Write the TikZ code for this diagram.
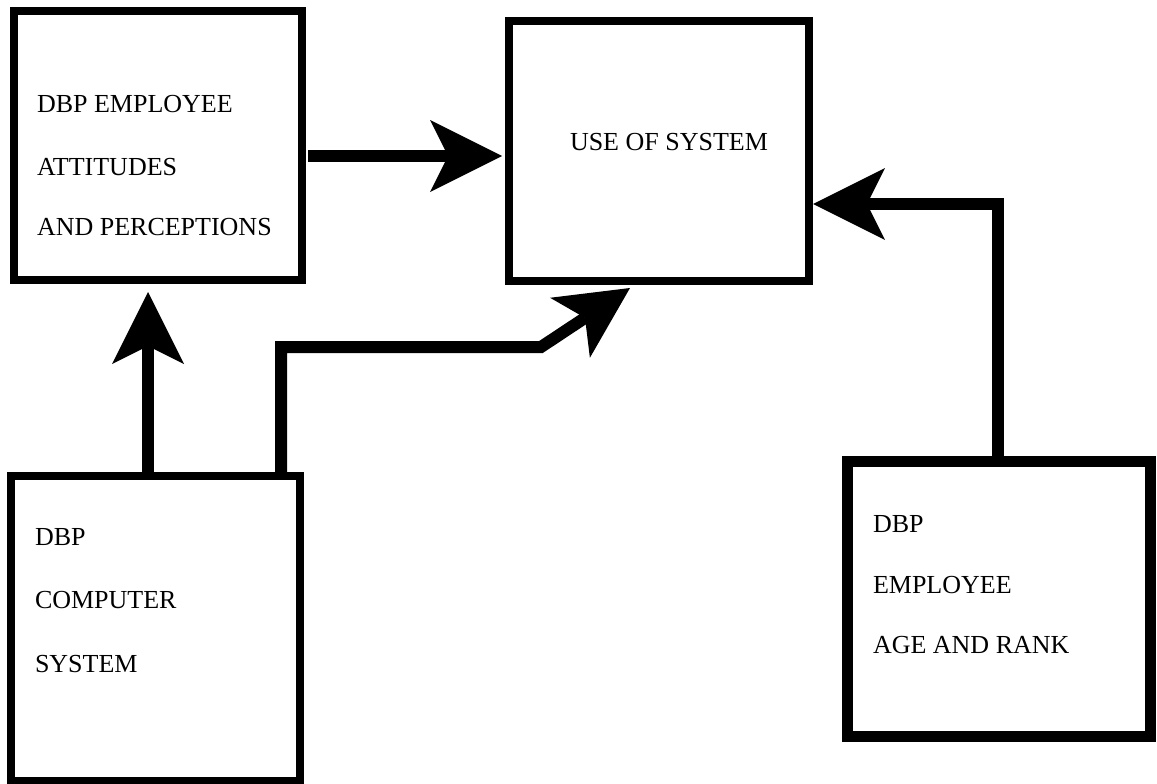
\documentclass[tikz,border=0pt]{standalone}
\usepackage{fontspec}
\setmainfont{Liberation Serif}
\usetikzlibrary{arrows.meta}
\begin{document}
\begin{tikzpicture}[x=1pt,y=-1pt,
  box/.style={draw=black,line width=8pt,rectangle,inner sep=0pt,outer sep=0pt},
  lbl/.style={anchor=base west,inner sep=0pt,outer sep=0pt,font=\fontsize{26}{30}\selectfont},
  arr/.style={line width=12pt,line join=miter,-{Stealth[length=72pt,width=72pt,inset=18pt,line width=0pt]}}]
\useasboundingbox[fill=white] (0,0) rectangle (1157,784);
% boxes
\node[box,minimum width=288.5pt,minimum height=269pt] (A) at (157.75,145.5) {};
\node[box,minimum width=300pt,minimum height=260pt] (B) at (659,151) {};
\node[box,minimum width=289pt,minimum height=305pt] (C) at (155.5,628.5) {};
\node[box,line width=11pt,minimum width=303pt,minimum height=275pt] (D) at (998.5,598.5) {};
% labels
\node[lbl] (a1) at (37,112) {DBP EMPLOYEE};
\node[lbl] (a2) at (37,175) {ATTITUDES};
\node[lbl] (a3) at (37,235) {AND PERCEPTIONS};
\node[lbl] (b1) at (570,150) {USE OF SYSTEM};
\node[lbl] (c1) at (35,545) {DBP};
\node[lbl] (c2) at (35,608) {COMPUTER};
\node[lbl] (c3) at (35,672) {SYSTEM};
\node[lbl] (d1) at (873,532) {DBP};
\node[lbl] (d2) at (873,593) {EMPLOYEE};
\node[lbl] (d3) at (873,653) {AGE AND RANK};
% connectors
\coordinate (t3) at (630,288);
\draw[arr,shorten <=6pt,shorten >=7pt] (A.east |- 0,156) -- (B.west |- 0,156);
\draw[arr,shorten >=12pt] (C.north -| 148,0) -- (A.south -| 148,0);
\draw[arr] (C.north -| 281,0) -- (281,347) -- (541,347) -- (t3);
\draw[arr,shorten >=4pt] (D.north -| 998,0) -- (998,204) -- (B.east |- 0,204);
\end{tikzpicture}
\end{document}
